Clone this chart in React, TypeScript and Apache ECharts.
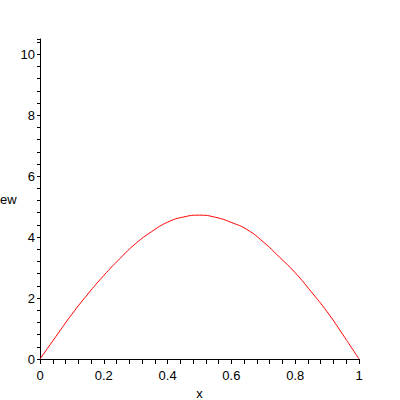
import React, { useEffect, useRef } from "react";
import * as echarts from "echarts";

const xValues = [0, 0.05, 0.1, 0.15, 0.2, 0.25, 0.3, 0.35, 0.4, 0.45, 0.5, 0.55, 0.6, 0.65, 0.7, 0.75, 0.8, 0.85, 0.9, 0.95, 1];
const yValues = [0, 0.74, 1.47, 2.13, 2.74, 3.29, 3.79, 4.18, 4.49, 4.66, 4.72, 4.65, 4.48, 4.24, 3.84, 3.35, 2.83, 2.21, 1.55, 0.79, 0];
const xLabelValues = [0, 0.2, 0.4, 0.6, 0.8, 1];
const yLabelValues = [0, 2, 4, 6, 8, 10];
const xName = "x";
const yName = "ew";

const FONT = "'Liberation Sans', Arial, sans-serif";

function isIn(list: number[], v: number) {
  return list.some((t) => Math.abs(t - v) < 1e-6);
}

export default function App() {
  const ref = useRef<HTMLDivElement>(null);
  useEffect(() => {
    if (!ref.current) return;
    const chart = echarts.init(ref.current, undefined, { renderer: "svg" });
    chart.setOption({
      animation: false,
      backgroundColor: "#ffffff",
      grid: { left: 40, right: 41, top: 39, bottom: 41, containLabel: false, outerBoundsMode: "none" },
      xAxis: {
        type: "value",
        min: 0,
        max: 1,
        interval: 0.04,
        name: xName,
        nameLocation: "middle",
        nameGap: 26,
        nameTextStyle: { color: "#000", fontSize: 13, fontFamily: FONT },
        axisLine: { show: true, onZero: false, lineStyle: { color: "#000", width: 1 } },
        axisTick: { show: true, length: 5, lineStyle: { color: "#000" } },
        splitLine: { show: false },
        axisLabel: {
          color: "#000",
          fontSize: 13,
          fontFamily: FONT,
          margin: 10,
          showMinLabel: true,
          showMaxLabel: true,
          formatter: (v: number) => (isIn(xLabelValues, v) ? String(Math.round(v * 10) / 10) : ""),
        },
      },
      yAxis: {
        type: "value",
        min: 0,
        max: 10.5,
        interval: 0.4,
        axisLine: { show: true, onZero: false, lineStyle: { color: "#000", width: 1 } },
        axisTick: { show: true, length: 3, lineStyle: { color: "#000" } },
        splitLine: { show: false },
        axisLabel: {
          color: "#000",
          fontSize: 13,
          fontFamily: FONT,
          margin: 5,
          formatter: (v: number) => (isIn(yLabelValues, v) ? String(Math.round(v)) : ""),
        },
      },
      graphic: [
        {
          type: "text",
          left: 0,
          top: 193,
          style: { text: yName, fill: "#000", fontSize: 13, fontFamily: FONT },
        },
      ],
      series: [
        {
          type: "line",
          data: xValues.map((x, i) => [x, yValues[i]]),
          smooth: 0.5,
          showSymbol: false,
          lineStyle: { color: "#ff0000", width: 1 },
          itemStyle: { color: "#ff0000" },
        },
      ],
    });
    return () => chart.dispose();
  }, []);
  return (
    <div
      ref={ref}
      style={{ position: "fixed", left: 0, top: 0, width: 400, height: 400, background: "#fff" }}
    />
  );
}
